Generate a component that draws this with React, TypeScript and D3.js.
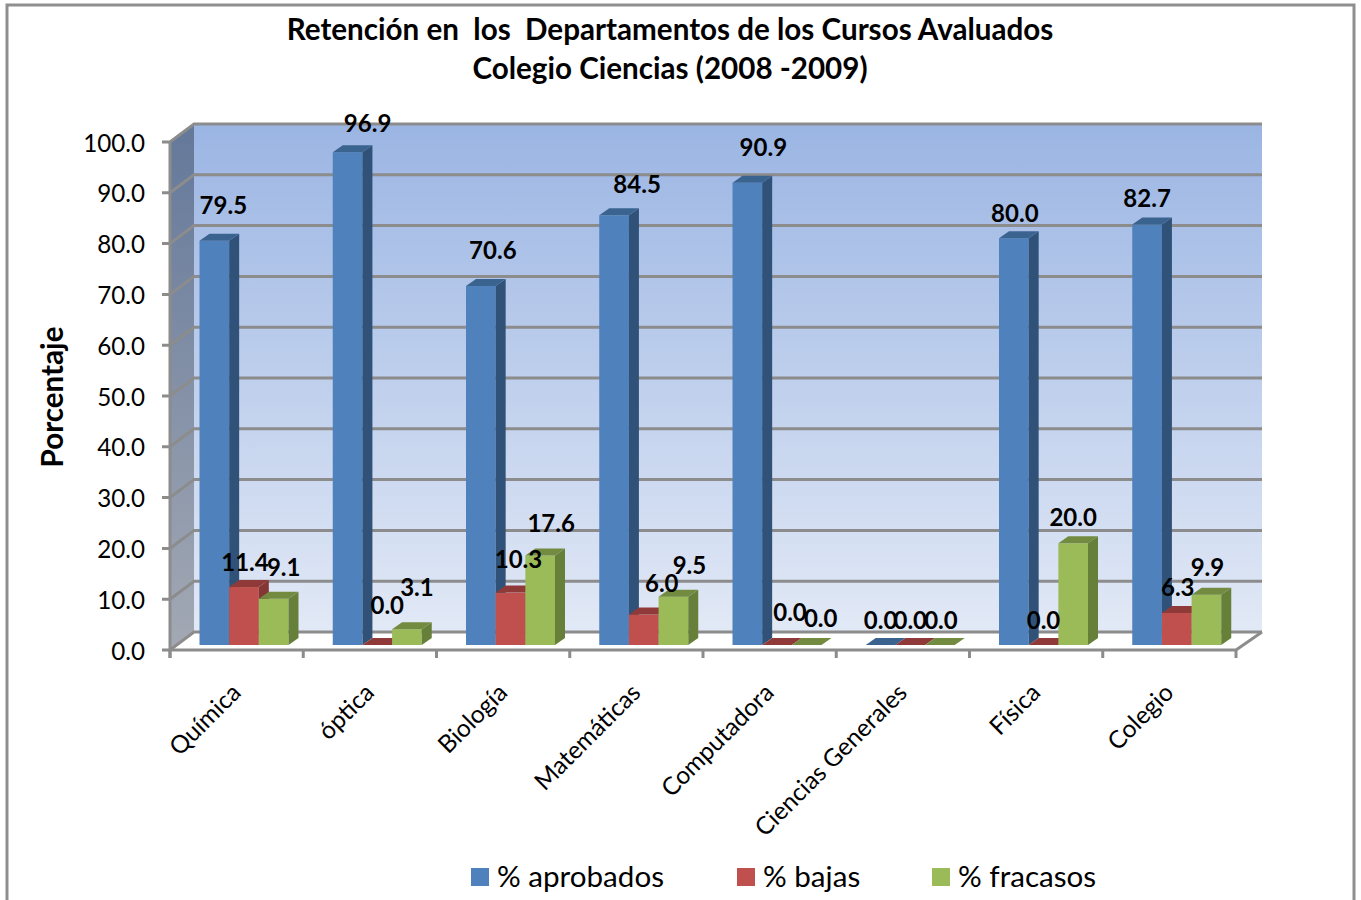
import React from "react";
import * as d3 from "d3";

const categories = ["Química", "óptica", "Biología", "Matemáticas", "Computadora", "Ciencias Generales", "Física", "Colegio"];
const aprobados = [79.5, 96.9, 70.6, 84.5, 90.9, 0, 80.0, 82.7];
const bajas = [11.4, 0, 10.3, 6.0, 0, 0, 0, 6.3];
const fracasos = [9.1, 3.1, 17.6, 9.5, 0, 0, 20.0, 9.9];
const seriesNames = ["% aprobados", "% bajas", "% fracasos"];
const seriesValues = [aprobados, bajas, fracasos];
const yTicks = [0, 10, 20, 30, 40, 50, 60, 70, 80, 90, 100];
const titleLines = ["Retención en  los  Departamentos de los Cursos Avaluados", "Colegio Ciencias (2008 -2009)"];

// label nudges [dx, dy] from each bar's top centre, per category, per series
const labelNudges = [
  [[9, -36], [1, -26], [10, -32]],
  [[20, -30], [10, -41], [10, -43]],
  [[12, -36], [8, -34], [11, -33]],
  [[23, -32], [18, -32], [16, -32]],
  [[16, -36], [13, -34], [14, -28]],
  [[0, -26], [0, -26], [1, -26]],
  [[1, -26], [0, -26], [0, -27]],
  [[0, -27], [1, -26], [1, -28]],
];

const FONT = "Lato, 'Noto Sans', sans-serif";
const colors = [
  { face: "#4f81bd", top: "#3b6390", side: "#305279" },
  { face: "#c0504d", top: "#8f3a38", side: "#843634" },
  { face: "#9bbb59", top: "#728b40", side: "#66803a" },
];
const GRID = "#8c8c8c";

const x0 = d3.scaleBand<string>().domain(categories).range([170, 1236]);
const xSeries = d3.scaleBand<string>().domain(seriesNames).range([29.5, 118.5]);
// Axis plane (front edge) and bar plane (set a little behind the axis)
const yAxis = d3.scaleLinear().domain([0, 100]).range([650, 142]);
const yBar = d3.scaleLinear().domain([0, 100]).range([645, 136.5]);
const DX = 24, DY = 18; // wall depth
const BX = 10, BY = 7; // bar depth

export default function App() {
  const bw = xSeries.bandwidth();
  const L = 170, R = 1236;
  const backR = R + DX + 2;
  return (
    <svg width={1361} height={900} viewBox="0 0 1361 900" style={{ position: "absolute", left: 0, top: 0, background: "#fff" }} fontFamily={FONT}>
      <defs>
        <linearGradient id="wall" x1="0" y1="0" x2="0" y2="1">
          <stop offset="0" stopColor="#9bb5e3" />
          <stop offset="1" stopColor="#e2e9f6" />
        </linearGradient>
        <linearGradient id="side" x1="0" y1="0" x2="0" y2="1">
          <stop offset="0" stopColor="#64789a" />
          <stop offset="1" stopColor="#a3a9b4" />
        </linearGradient>
      </defs>
      <path d="M7,900 V5 H1354 V900" fill="none" stroke="#8f8f8f" strokeWidth={3} />
      {titleLines.map((t, i) => (
        <text key={i} x={670} y={28 + i * 39} textAnchor="middle" dominantBaseline="central" fontSize={29.6} fontWeight={700} xmlSpace="preserve" style={{ whiteSpace: "pre" }}>{t}</text>
      ))}
      <polygon points={`${L + DX},${yAxis(100) - DY} ${backR},${yAxis(100) - DY} ${backR},${yAxis(0) - DY} ${L + DX},${yAxis(0) - DY}`} fill="url(#wall)" />
      <polygon points={`${L},${yAxis(100)} ${L + DX},${yAxis(100) - DY} ${L + DX},${yAxis(0) - DY} ${L},${yAxis(0)}`} fill="url(#side)" />
      {yTicks.map((t) => (
        <polyline key={t} points={`${L - 8},${yAxis(t)} ${L},${yAxis(t)} ${L + DX},${yAxis(t) - DY} ${backR},${yAxis(t) - DY}`} stroke={GRID} strokeWidth={3} fill="none" />
      ))}
      <line x1={L} x2={L} y1={yAxis(100)} y2={yAxis(0) + 8} stroke={GRID} strokeWidth={3} />
      <polyline points={`${L},${yAxis(0)} ${R},${yAxis(0)} ${backR},${yAxis(0) - DY}`} fill="none" stroke={GRID} strokeWidth={3} />
      {d3.range(categories.length + 1).map((i) => {
        const x = L + (i * (R - L)) / categories.length;
        return <line key={i} x1={x} x2={x} y1={yAxis(0)} y2={yAxis(0) + 8} stroke={GRID} strokeWidth={3} />;
      })}
      {yTicks.map((t) => (
        <text key={t} x={145} y={yAxis(t)} textAnchor="end" dominantBaseline="central" fontSize={24.2}>{t.toFixed(1)}</text>
      ))}
      <text transform="translate(51,397) rotate(-90)" textAnchor="middle" dominantBaseline="central" fontSize={29.6} fontWeight={700}>Porcentaje</text>

      {categories.map((c, i) =>
        seriesNames.map((s, j) => {
          const v = seriesValues[j][i];
          const x = (x0(c) as number) + (xSeries(s) as number);
          const yt = yBar(v), yb = yBar(0);
          const col = colors[j];
          return (
            <g key={s}>
              {v > 0 && <rect x={x} y={yt} width={bw} height={yb - yt} fill={col.face} />}
              {v > 0 && <polygon points={`${x + bw},${yt} ${x + bw + BX},${yt - BY} ${x + bw + BX},${yb - BY} ${x + bw},${yb}`} fill={col.side} />}
              <polygon points={`${x},${yt} ${x + BX},${yt - BY} ${x + bw + BX},${yt - BY} ${x + bw},${yt}`} fill={col.top} />
            </g>
          );
        })
      )}
      {categories.map((c, i) =>
        seriesNames.map((s, j) => {
          const v = seriesValues[j][i];
          const x = (x0(c) as number) + (xSeries(s) as number) + bw / 2;
          const [dx, dy] = labelNudges[i][j];
          return (
            <text key={s} x={x + dx} y={yBar(v) + dy} textAnchor="middle" dominantBaseline="central" fontSize={24} fontWeight={700}>{v.toFixed(1)}</text>
          );
        })
      )}
      {categories.map((c) => {
        const cx = (x0(c) as number) + x0.bandwidth() / 2;
        return (
          <text key={c} transform={`translate(${cx - 1},${687.5}) rotate(-45)`} textAnchor="end" dominantBaseline="central" fontSize={24.5}>{c}</text>
        );
      })}
      {seriesNames.map((s, j) => {
        const lx = [471, 737, 932][j];
        return (
          <g key={s}>
            <rect x={lx} y={868} width={18} height={18} fill={colors[j].face} />
            <text x={lx + 26} y={875.5} dominantBaseline="central" fontSize={29.6}>{s}</text>
          </g>
        );
      })}
    </svg>
  );
}
